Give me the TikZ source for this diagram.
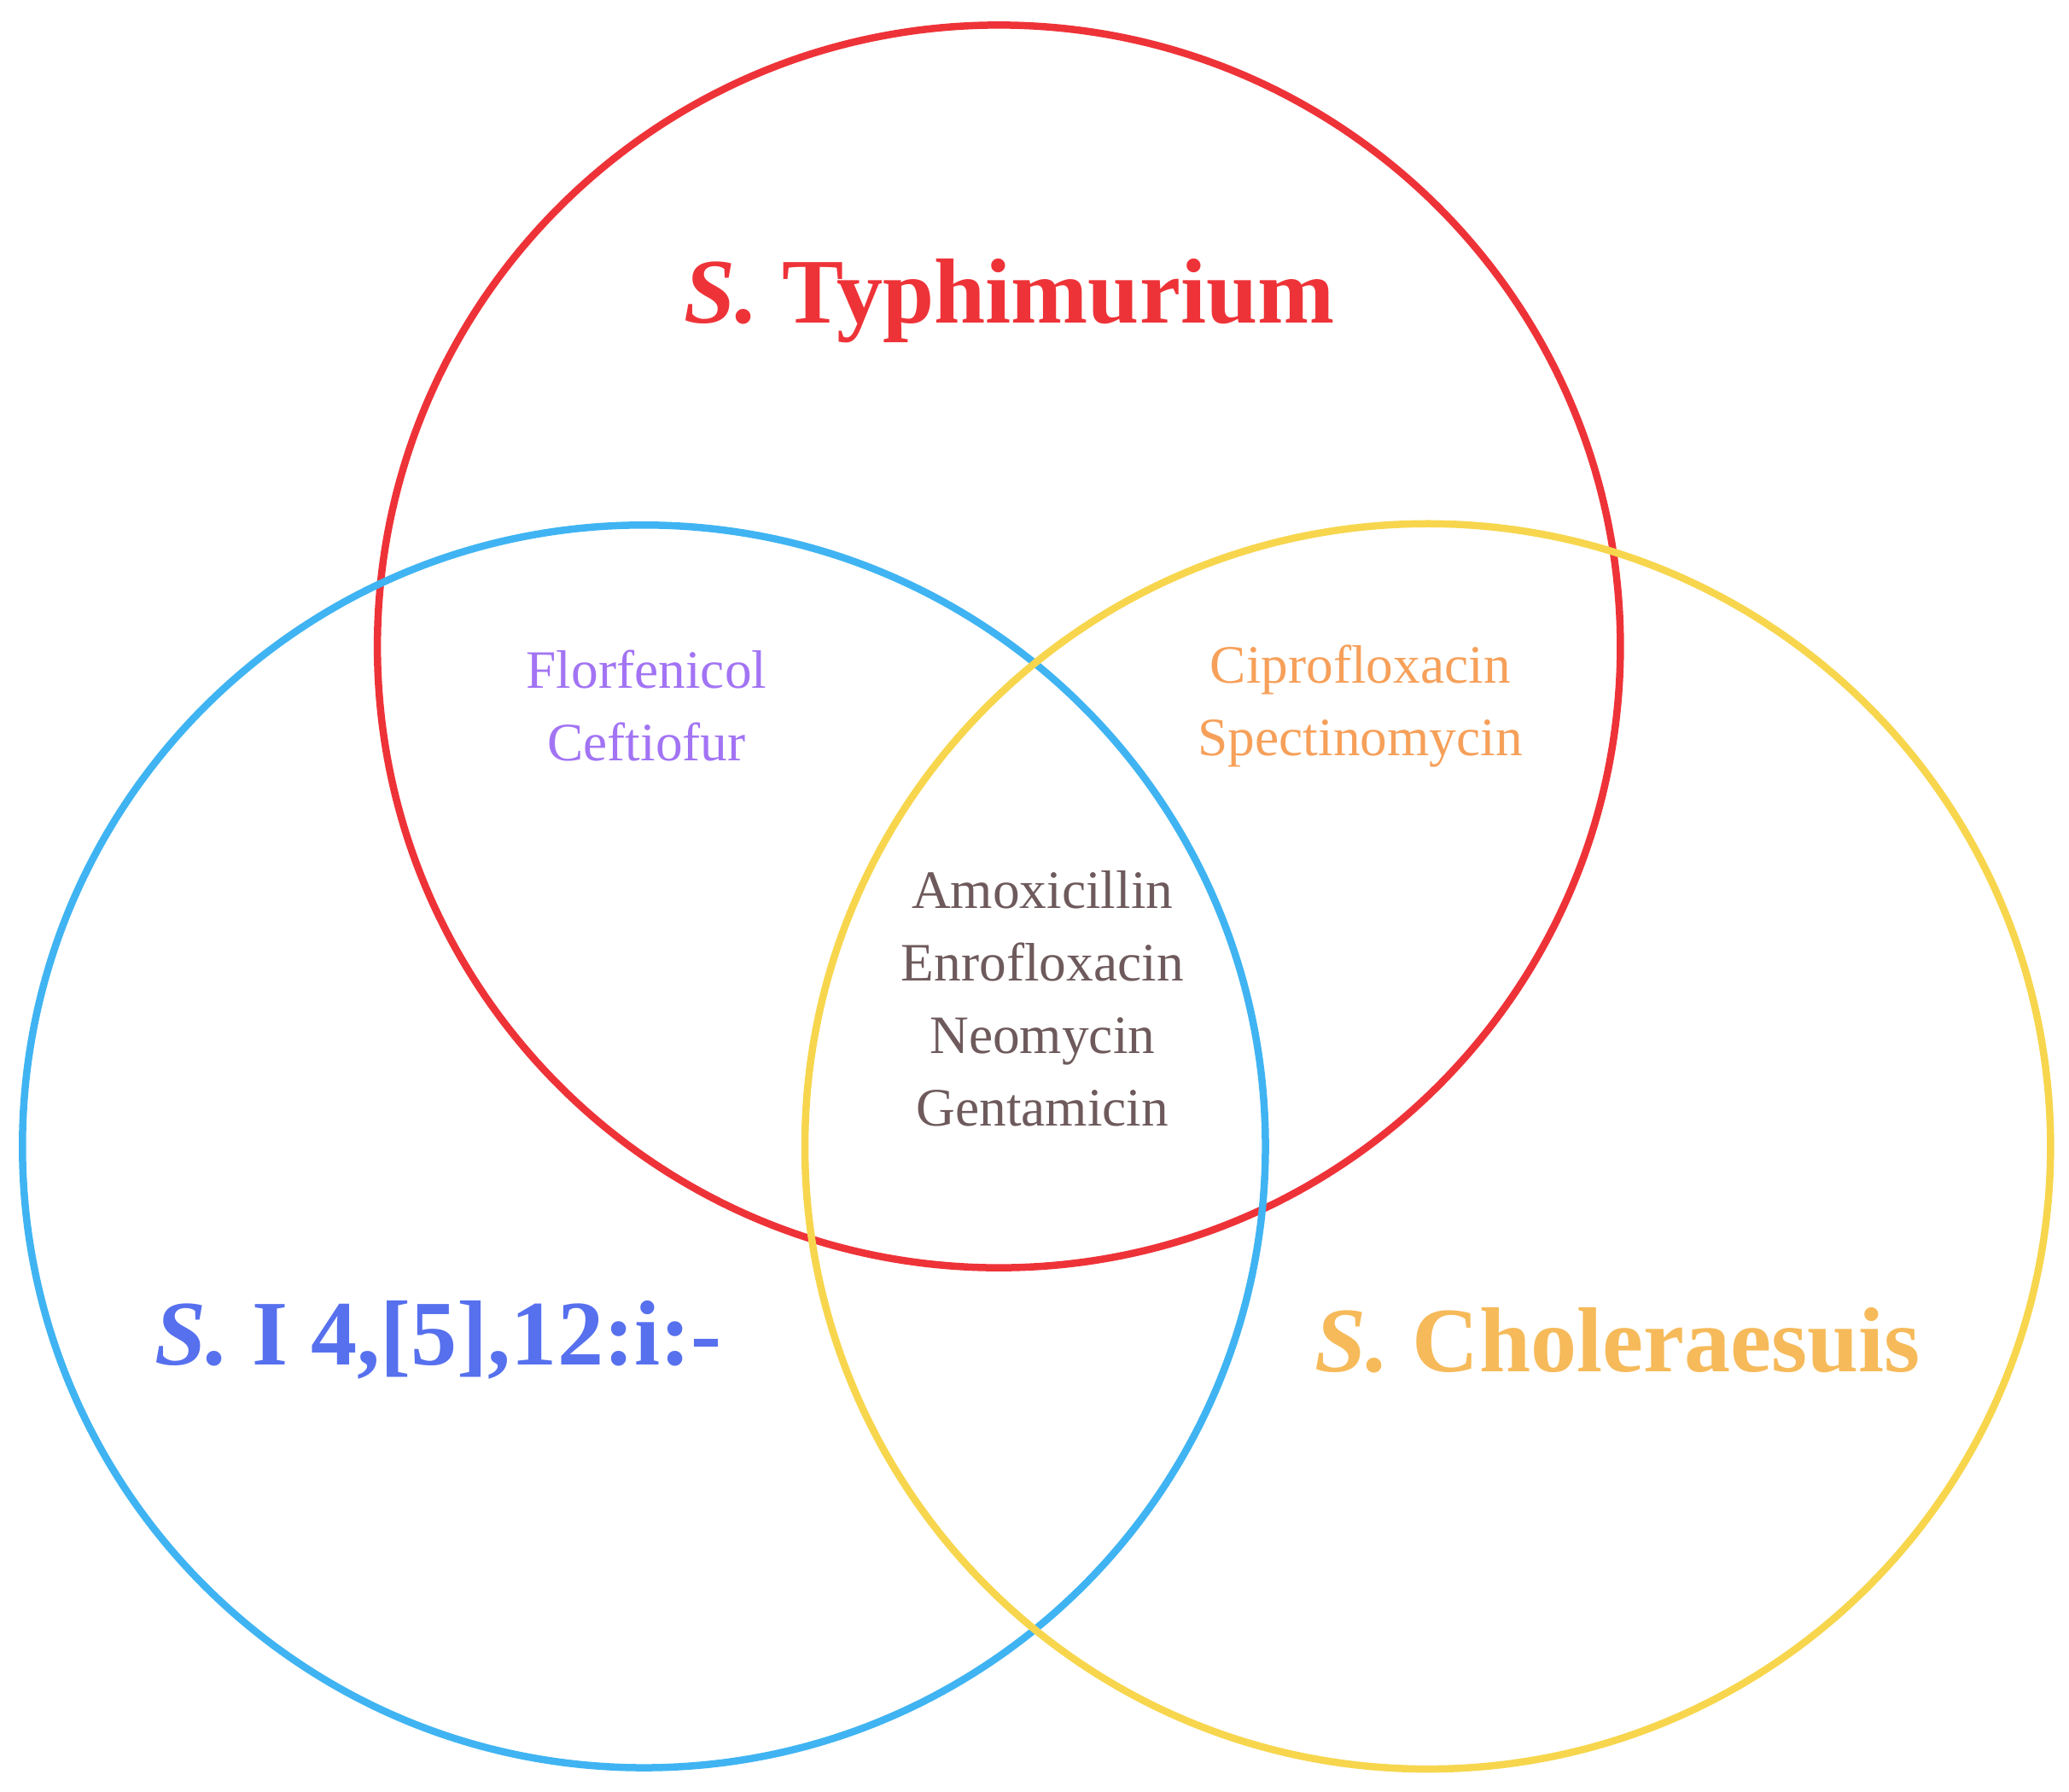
\documentclass[tikz,border=0pt]{standalone}
\usepackage{fontspec}
\setmainfont{Liberation Serif}
\definecolor{cred}{HTML}{EE3338}
\definecolor{cblue}{HTML}{40B4F2}
\definecolor{cyel}{HTML}{F7D64E}
\definecolor{tblue}{HTML}{5670EE}
\definecolor{torange}{HTML}{F6BA5A}
\definecolor{tpurple}{HTML}{A274F4}
\definecolor{tor2}{HTML}{F6A05A}
\definecolor{tgray}{HTML}{6E5A5C}
\begin{document}
\begin{tikzpicture}[x=1pt,y=-1pt,
  ring/.style={line width=5.5pt},
  title/.style={font=\fontsize{70}{74}\selectfont\bfseries},
  lbl/.style={font=\fontsize{41}{55}\selectfont, align=center}]
\useasboundingbox (0,0) rectangle (1568,1358);
\draw[ring,cred] (757,490) circle (471);
\draw[ring,cblue] (488,869) circle (471);
\draw[ring,cyel] (1082,869) circle (472);
\node[title,cred] (t1) at (765,228) {\textit{S.} Typhimurium};
\node[title,tblue] (t2) at (332,1016) {\textit{S.} I 4,[5],12:i:-};
\node[title,torange] (t3) at (1226,1016) {\textit{S.} Choleraesuis};
\node[lbl,tpurple] (a) at (490,535) {Florfenicol\\Ceftiofur};
\node[lbl,tor2] (b) at (1031,535) {Ciprofloxacin\\Spectinomycin};
\node[lbl,tgray] (c) at (790,757) {Amoxicillin\\Enrofloxacin\\Neomycin\\Gentamicin};
\end{tikzpicture}
\end{document}
